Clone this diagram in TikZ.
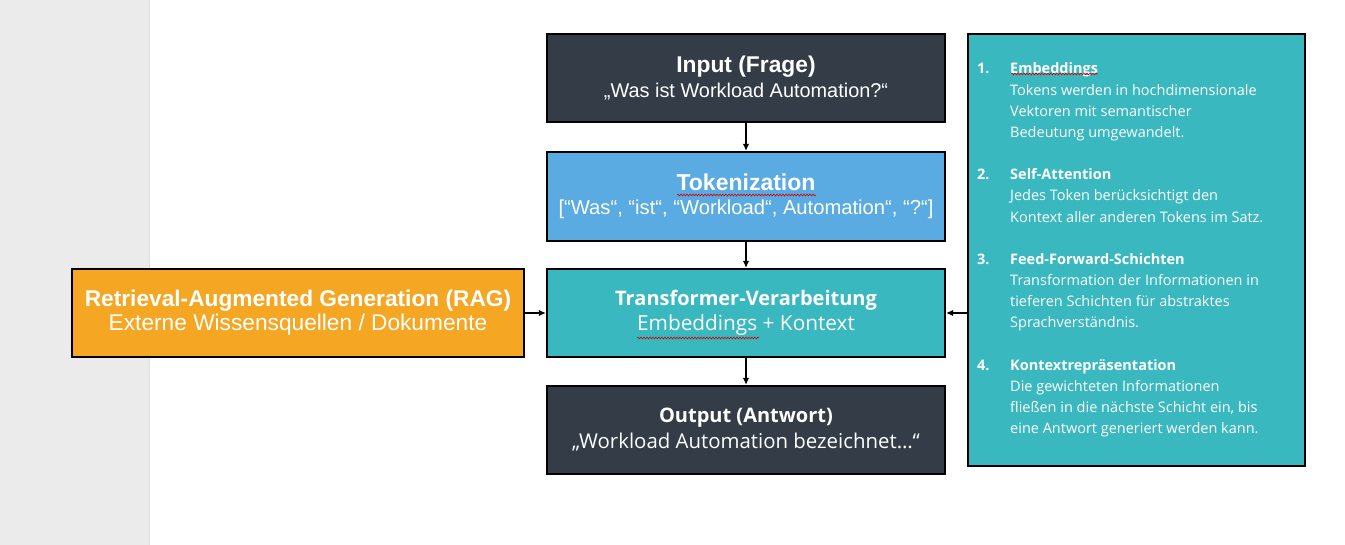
\documentclass[tikz,border=0pt]{standalone}
\usepackage{fontspec}
\setmainfont{Liberation Sans}
\newfontfamily\aptos{Open Sans}
\usetikzlibrary{arrows.meta,positioning,decorations.pathmorphing}
\definecolor{slate}{HTML}{343C47}
\definecolor{skyblue}{HTML}{5AABE1}
\definecolor{teal}{HTML}{3AB8BF}
\definecolor{amber}{HTML}{F5A623}
\definecolor{sidegray}{HTML}{EBEBEB}
\begin{document}
\begin{tikzpicture}[x=1pt,y=-1pt,
  box/.style={draw=black,line width=2.2pt,minimum width=398pt,minimum height=88pt,
    align=center,text=white,inner sep=0pt,font=\fontsize{20}{24}\selectfont},
  link/.style={line width=2.2pt,-{Latex[length=7pt,width=6.5pt]}},
  spell/.style={red!85!black,line width=0.6pt,decorate,
    decoration={snake,amplitude=0.9pt,segment length=3pt}}]
\useasboundingbox (0,0) rectangle (1345,545);
% Seitenrand
\fill[sidegray] (0,0) rectangle (150,545);
\draw[gray!25,line width=1pt] (149.5,0) -- (149.5,545);
% Ablauf
\node[box,fill=slate] (input) at (746,78)
  {{\fontsize{22.8}{26}\selectfont\bfseries Input (Frage)}\\[1pt]
   {\fontsize{19.9}{23}\selectfont „Was ist Workload Automation?“}};
\node[box,fill=skyblue,minimum height=89pt] (token) at (746,196.5)
  {{\fontsize{23}{26}\selectfont\bfseries Tokenization}\\[0pt]
   {\fontsize{20.2}{23}\selectfont [“Was“, “ist“, “Workload“, Automation“, “?“]}};
\node[box,fill=teal] (trans) at (746,313)
  {{\aptos\fontsize{20}{24}\selectfont\bfseries Transformer-Verarbeitung}\\[1pt]
   {\aptos\fontsize{20.8}{23}\selectfont Embeddings + Kontext}};
\node[box,fill=slate] (output) at (746,430)
  {{\aptos\fontsize{20}{24}\selectfont\bfseries Output (Antwort)}\\[2pt]
   {\aptos\fontsize{20.4}{23}\selectfont „Workload Automation bezeichnet…“}};
\node[box,fill=amber,minimum width=452pt] (rag) at (298,313)
  {{\fontsize{22.7}{26}\selectfont\bfseries Retrieval-Augmented Generation (RAG)}\\[0pt]
   {\fontsize{22.7}{26}\selectfont Externe Wissensquellen / Dokumente}};
% Erklaerung rechts
\node[draw=black,line width=2.2pt,fill=teal,minimum width=337pt,minimum height=432pt,
  inner sep=0pt] (panel) at (1136.5,250) {};
\node[anchor=north west,text=white,inner sep=0pt] (steps) at (977,59)
  {\aptos\fontsize{14.5}{21.1}\selectfont
   \begin{tabular}{@{}p{33pt}@{}l@{}}
   \textbf{1.} & \textbf{Embeddings}\\
    & Tokens werden in hochdimensionale\\
    & Vektoren mit semantischer\\
    & Bedeutung umgewandelt.\\[21.5pt]
   \textbf{2.} & \textbf{Self-Attention}\\
    & Jedes Token berücksichtigt den\\
    & Kontext aller anderen Tokens im Satz.\\[21.5pt]
   \textbf{3.} & \textbf{Feed-Forward-Schichten}\\
    & Transformation der Informationen in\\
    & tieferen Schichten für abstraktes\\
    & Sprachverständnis.\\[21.5pt]
   \textbf{4.} & \textbf{Kontextrepräsentation}\\
    & Die gewichteten Informationen\\
    & fließen in die nächste Schicht ein, bis\\
    & eine Antwort generiert werden kann.
   \end{tabular}};
% Pfeile
\draw[link] (input) -- (token);
\draw[link] (token) -- (trans);
\draw[link] (trans) -- (output);
\draw[link] (rag) -- (trans);
\draw[link] (panel.west |- trans.east) -- (trans.east);
% Rechtschreibmarken
\draw[spell] (677,195) -- (816,195);
\draw[spell] (637,338) -- (759,338);
\draw[spell] (1011,74) -- (1098,74);
\end{tikzpicture}
\end{document}
